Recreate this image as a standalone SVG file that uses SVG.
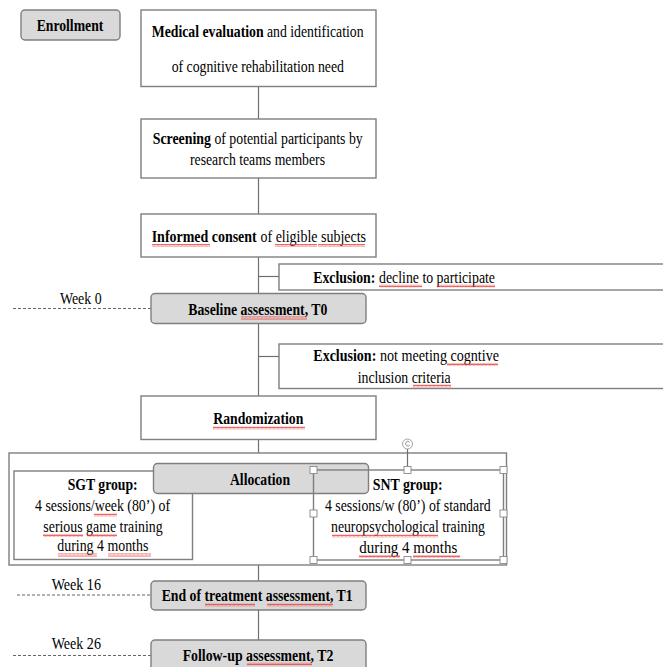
<svg xmlns="http://www.w3.org/2000/svg" width="663" height="667" viewBox="0 0 663 667">
<defs>
<pattern id="sq" width="4" height="3" patternUnits="userSpaceOnUse">
<path d="M0,2.5 L1,0.5 L2,2.5 L3,0.5 L4,2.5" fill="none" stroke="#e8403a" stroke-width="0.8"/>
</pattern>
<style>
text{font-family:"Liberation Serif","Times New Roman",serif;font-size:16px;fill:#000;text-anchor:middle}
.b{font-weight:bold}
.s{text-anchor:start}
.box{fill:#fff;stroke:#7f7f7f;stroke-width:1.4}
.gbox{fill:#d9d9d9;stroke:#7f7f7f;stroke-width:1.4}
.ln{stroke:#6f6f6f;stroke-width:1.2;fill:none}
.dash{stroke:#555;stroke-width:0.9;stroke-dasharray:3,2;fill:none}
.h{fill:#fff;stroke:#888;stroke-width:0.9}
.sq{fill:url(#sq)}
</style>
</defs>
<rect width="663" height="667" fill="#fff"/>
<g id="connectors">
<line class="ln" x1="258.5" y1="86" x2="258.5" y2="119"/>
<line class="ln" x1="258.5" y1="178" x2="258.5" y2="214"/>
<line class="ln" x1="258.5" y1="257" x2="258.5" y2="293"/>
<line class="ln" x1="258.5" y1="276.5" x2="279" y2="276.5"/>
<line class="ln" x1="258.5" y1="323" x2="258.5" y2="396"/>
<line class="ln" x1="258.5" y1="356.5" x2="279" y2="356.5"/>
<line class="ln" x1="258.5" y1="439" x2="258.5" y2="453"/>
<line class="ln" x1="258.5" y1="565" x2="258.5" y2="581"/>
<line class="ln" x1="258.5" y1="610" x2="258.5" y2="640"/>
<line class="dash" x1="13" y1="308.5" x2="151" y2="308.5"/>
<line class="dash" x1="17" y1="595" x2="151" y2="595"/>
<line class="dash" x1="13" y1="655.5" x2="151" y2="655.5"/>
</g>
<g id="enrollment">
<rect class="gbox" x="21" y="10" width="99" height="30" rx="4"/>
<text class="b" x="70" y="31" textLength="66.7" lengthAdjust="spacingAndGlyphs">Enrollment</text>
</g>
<g id="medical">
<rect class="box" x="141" y="10" width="235" height="76.5"/>
<text class="s" transform="translate(151.7 36.5) scale(0.86 1)" x="0" y="0"><tspan class="b">Medical evaluation</tspan> and identification</text>
<text x="257.8" y="72" textLength="172.3" lengthAdjust="spacingAndGlyphs">of cognitive rehabilitation need</text>
</g>
<g id="screening">
<rect class="box" x="141" y="119" width="235" height="59"/>
<text class="b s" x="152.7" y="143.5" textLength="58.3" lengthAdjust="spacingAndGlyphs">Screening</text>
<text class="s" x="214.4" y="143.5" textLength="148.3" lengthAdjust="spacingAndGlyphs">of potential participants by</text>
<text x="257.5" y="165" textLength="135" lengthAdjust="spacingAndGlyphs">research teams members</text>
</g>
<g id="consent">
<rect class="box" x="141" y="214" width="235" height="43"/>
<text class="b s" x="151.7" y="242" textLength="105" lengthAdjust="spacingAndGlyphs">Informed consent</text>
<text class="s" x="260.5" y="242" textLength="105.5" lengthAdjust="spacingAndGlyphs">of eligible subjects</text>
<rect class="sq" x="152" y="244" width="58" height="3"/>
<rect class="sq" x="275" y="244" width="42" height="3"/>
<rect class="sq" x="318" y="244" width="47" height="3"/>
</g>
<g id="exclusion1">
<rect class="box" x="279" y="264" width="390" height="26"/>
<text class="b s" x="313.3" y="282.5" textLength="62" lengthAdjust="spacingAndGlyphs">Exclusion:</text>
<text class="s" x="379" y="282.5" textLength="116" lengthAdjust="spacingAndGlyphs">decline to participate</text>
<rect class="sq" x="379" y="284.5" width="43" height="3"/>
<rect class="sq" x="437" y="284.5" width="58" height="3"/>
</g>
<g id="week0">
<text x="80.8" y="304" textLength="41.7" lengthAdjust="spacingAndGlyphs">Week 0</text>
</g>
<g id="baseline">
<rect class="gbox" x="151" y="293.5" width="215" height="30" rx="4"/>
<text class="b" x="257.8" y="314.5" textLength="139" lengthAdjust="spacingAndGlyphs">Baseline assessment, T0</text>
<rect class="sq" x="241" y="316.5" width="66" height="3"/>
</g>
<g id="exclusion2">
<rect class="box" x="279" y="344" width="390" height="44.5"/>
<text class="b s" x="313.3" y="361" textLength="63" lengthAdjust="spacingAndGlyphs">Exclusion:</text>
<text class="s" x="380" y="361" textLength="119" lengthAdjust="spacingAndGlyphs">not meeting cogntive</text>
<text x="404.2" y="382.5" textLength="93" lengthAdjust="spacingAndGlyphs">inclusion criteria</text>
<rect class="sq" x="447" y="363" width="51" height="3"/>
<rect class="sq" x="413" y="384.5" width="38" height="3"/>
</g>
<g id="randomization">
<rect class="box" x="141" y="396" width="235" height="43.5"/>
<text class="b" x="258.3" y="424" textLength="90" lengthAdjust="spacingAndGlyphs">Randomization</text>
<rect class="sq" x="213" y="426.5" width="92" height="3"/>
</g>
<g id="allocation-frame">
<rect class="box" x="9" y="453" width="497.5" height="112"/>
</g>
<g id="sgt">
<rect class="box" x="14" y="471" width="178.5" height="88.5"/>
<text class="b" x="102.7" y="490" textLength="70" lengthAdjust="spacingAndGlyphs">SGT group:</text>
<text x="102.5" y="511" textLength="135" lengthAdjust="spacingAndGlyphs">4 sessions/week (80’) of</text>
<text x="103" y="531.5" textLength="119.3" lengthAdjust="spacingAndGlyphs">serious game training</text>
<text x="102.8" y="551" textLength="91" lengthAdjust="spacingAndGlyphs">during 4 months</text>
<rect class="sq" x="94" y="513.5" width="23" height="3"/>
<rect class="sq" x="43" y="534" width="40" height="3"/>
<rect class="sq" x="87" y="534" width="30" height="3"/>
<rect class="sq" x="58" y="553.5" width="39" height="3"/>
<rect class="sq" x="108" y="553.5" width="43" height="3"/>
</g>
<g id="allocation">
<rect class="gbox" x="153.5" y="463.5" width="215" height="30" rx="4"/>
<text class="b" x="260" y="484.5" textLength="60" lengthAdjust="spacingAndGlyphs">Allocation</text>
</g>
<g id="snt">
<rect class="box" x="313.5" y="470" width="190" height="90" style="fill:none"/>
<text class="b" x="407.7" y="490" textLength="70" lengthAdjust="spacingAndGlyphs">SNT group:</text>
<text x="407.8" y="511" textLength="165.7" lengthAdjust="spacingAndGlyphs">4 sessions/w (80’) of standard</text>
<text x="408" y="532" textLength="154" lengthAdjust="spacingAndGlyphs">neuropsychological training</text>
<text x="408.3" y="552.5" style="font-size:17px" textLength="98" lengthAdjust="spacingAndGlyphs">during 4 months</text>
<rect class="sq" x="332" y="534.5" width="106" height="3"/>
<rect class="sq" x="359" y="555" width="41" height="3"/>
<rect class="sq" x="413" y="555" width="47" height="3"/>
<line class="ln" x1="407.5" y1="449" x2="407.5" y2="470"/>
<circle cx="407.5" cy="444" r="5" fill="#fff" stroke="#999" stroke-width="0.9"/>
<path d="M409.5,442 A2.3,2.3 0 1 0 409.8,445" fill="none" stroke="#777" stroke-width="0.8"/>
<rect class="h" x="310" y="466.5" width="7" height="7"/>
<rect class="h" x="404" y="466.5" width="7" height="7"/>
<rect class="h" x="500" y="466.5" width="7" height="7"/>
<rect class="h" x="310" y="510" width="7" height="7"/>
<rect class="h" x="500" y="510" width="7" height="7"/>
<rect class="h" x="310" y="556.5" width="7" height="7"/>
<rect class="h" x="404" y="556.5" width="7" height="7"/>
<rect class="h" x="500" y="556.5" width="7" height="7"/>
</g>
<g id="week16">
<text x="76.3" y="589.5" textLength="49.3" lengthAdjust="spacingAndGlyphs">Week 16</text>
</g>
<g id="end">
<rect class="gbox" x="151" y="581" width="215" height="29" rx="4"/>
<text class="b" x="257.2" y="601" textLength="191" lengthAdjust="spacingAndGlyphs">End of treatment assessment, T1</text>
<rect class="sq" x="205" y="603.5" width="50" height="3"/>
<rect class="sq" x="267" y="603.5" width="66" height="3"/>
</g>
<g id="week26">
<text x="76.3" y="648.5" textLength="49.3" lengthAdjust="spacingAndGlyphs">Week 26</text>
</g>
<g id="followup">
<rect class="gbox" x="151" y="640" width="215" height="40" rx="4"/>
<text class="b" x="258" y="660.5" textLength="150.7" lengthAdjust="spacingAndGlyphs">Follow-up assessment, T2</text>
<rect class="sq" x="247" y="662.5" width="65" height="3"/>
</g>
</svg>
